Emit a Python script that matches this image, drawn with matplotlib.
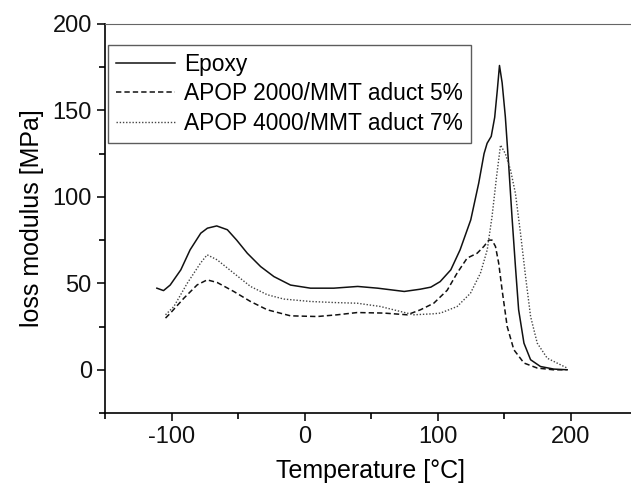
"""
Loss modulus vs temperature (DMA) for epoxy and APOP/MMT adduct samples.
"""
import matplotlib
matplotlib.use("Agg")
import matplotlib.pyplot as plt
from matplotlib.ticker import MultipleLocator

plt.rcParams["font.family"] = ["Liberation Sans", "DejaVu Sans"]
plt.rcParams["axes.unicode_minus"] = False

# Epoxy (solid)
epoxy_t = [-111, -106, -101, -93, -86, -78, -73, -66, -58, -51, -43, -33, -23, -10.5,
           4.5, 22, 40, 55, 75, 87, 95, 102, 110, 117, 125, 131, 135, 137.3, 140.4,
           143, 145, 146.6, 148.6, 151, 153.6, 156, 158.6, 161, 165, 170, 177.4,
           187.4, 197.5]
epoxy_e = [47.2, 45.8, 49, 57.8, 69.4, 79, 81.9, 83.2, 81, 75, 67.4, 59.7, 53.9, 49,
           47.2, 47.2, 48.2, 47.2, 45.3, 46.6, 47.8, 51, 57.8, 69.4, 86.7, 108, 125, 131, 135,
           146, 162, 176, 166, 146.4, 117.5, 88.6, 59.7, 34.7, 15.4, 5.8, 1.9,
           0.4, 0]

# APOP 2000/MMT aduct 5% (dashed)
apop2000_t = [-104.5, -100.8, -90.7, -80.7, -73.2, -65.7, -53.2, -40.6, -28, -10.5,
              9.5, 24.6, 39.6, 59.6, 77.2, 87.2, 97.2, 107.3, 114.8, 122.3, 129.8,
              134.8, 138.6, 141, 143.6, 146, 148.6, 152.4, 157.4, 165, 175, 187, 197]
apop2000_e = [29.9, 32.8, 41.4, 49.1, 52, 50.5, 45.3, 39.5, 34.7, 31.2,
              30.8, 31.8, 33.1, 32.8, 31.8, 34.7, 38.5, 46, 56, 64.6, 67.4,
              71.3, 75, 75, 71.3, 61.7, 46, 25, 11.6, 3.9, 1, 0, 0]

# APOP 4000/MMT aduct 7% (dotted)
apop4000_t = [-104.5, -98.2, -88.2, -78.2, -73.2, -65.7, -53.2, -40.6, -28, -15.5,
              4.5, 22, 39.6, 57.1, 72.2, 82.2, 97.2, 102.3, 114.8, 124.8, 132.3,
              137.4, 141, 144.4, 147.4, 151, 154.9, 158.6, 162.4, 166.2, 170, 175,
              182.5, 192.5, 197.5]
apop4000_e = [31.8, 36.6, 50, 61.7, 66.5, 63.6, 55.9, 48.2, 43.4, 40.9,
              39.5, 38.9, 38.5, 36.6, 33.7, 31.8, 32.4, 32.8, 36.6, 44.3, 55.9,
              69.4, 88.6, 111.7, 130, 125, 115.6, 102, 79, 54, 30.8, 15.4,
              6.7, 2.9, 1]

labels = ["Epoxy", "APOP 2000/MMT aduct 5%", "APOP 4000/MMT aduct 7%"]

fig = plt.figure(figsize=(6.31, 4.92), dpi=100)
ax = fig.add_axes([105 / 631, 1 - 413 / 492, 532 / 631, 389 / 492])

ax.plot(epoxy_t, epoxy_e, color="#111111", linewidth=1.1, label=labels[0])
ax.plot(apop2000_t, apop2000_e, color="#111111", linewidth=1.1,
        linestyle=(0, (3.5, 2)), label=labels[1])
ax.plot(apop4000_t, apop4000_e, color="#444444", linewidth=1.0,
        linestyle=(0, (1, 1.3)), label=labels[2])

ax.set_xlim(-150, 250)
ax.set_ylim(-25, 200)
ax.xaxis.set_major_locator(MultipleLocator(100))
ax.xaxis.set_minor_locator(MultipleLocator(50))
ax.yaxis.set_major_locator(MultipleLocator(50))
ax.yaxis.set_minor_locator(MultipleLocator(25))

ax.tick_params(which="major", direction="out", length=6, width=1.2,
               labelsize=17, pad=3.5, colors="#111111")
ax.tick_params(which="minor", direction="out", length=4, width=1.2)

ax.spines["right"].set_visible(False)
ax.spines["top"].set_color("#666666")
ax.spines["left"].set_linewidth(1.2)
ax.spines["bottom"].set_linewidth(1.2)

ax.set_xlabel("Temperature [°C]", fontsize=18, labelpad=8)
ax.set_ylabel("loss modulus [MPa]", fontsize=18, labelpad=6)

leg = ax.legend(loc="upper left", bbox_to_anchor=(3 / 532, 1 - 21 / 389),
                fontsize=16.4, frameon=True, fancybox=False, borderaxespad=0,
                handlelength=2.6, handletextpad=0.38, labelspacing=0.28,
                borderpad=0.35)
leg.get_frame().set_edgecolor("#333333")
leg.get_frame().set_linewidth(1.0)

fig.savefig("out.png", dpi=100)
